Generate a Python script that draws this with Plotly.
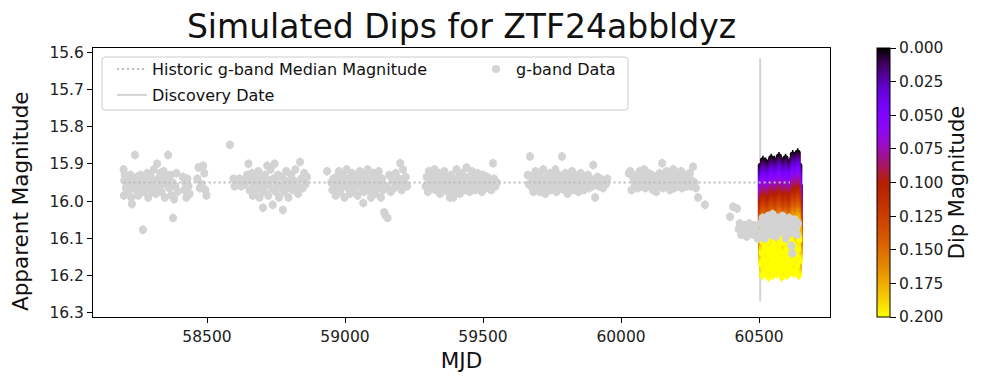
import math
import plotly.graph_objects as go

# ---------------- data ----------------
A_mjd = [58198, 58199, 58200, 58202, 58206, 58210, 58214, 58218, 58222, 58226,
         58228, 58231, 58235, 58239, 58243, 58247, 58251, 58255, 58259, 58263,
         58268, 58271, 58275, 58279, 58283, 58287, 58291, 58295, 58299, 58303,
         58307, 58311, 58315, 58319, 58323, 58327, 58331, 58335, 58339, 58343,
         58347, 58351, 58355, 58359, 58363, 58367, 58371, 58375, 58377, 58381,
         58385, 58389, 58393, 58413, 58417, 58421, 58425, 58429, 58433, 58437,
         58465, 58469, 58474, 58480, 58486, 58490, 58494, 58498]
A_mag = [15.915, 15.985, 15.945, 15.93, 15.965, 15.94, 15.975, 15.95, 15.93, 15.99,
         16.008, 15.96, 15.945, 15.876, 15.97, 15.935, 15.985, 15.95, 15.93, 15.96,
         16.077, 15.975, 15.94, 15.955, 15.925, 15.99, 15.96, 15.93, 15.975, 15.945,
         15.915, 15.965, 15.98, 15.9, 15.94, 15.96, 15.925, 15.975, 15.945, 15.92,
         15.99, 15.955, 15.935, 15.876, 15.965, 15.93, 15.985, 15.95, 16.045, 15.995,
         15.96, 15.925, 15.975, 15.935, 15.97, 15.95, 15.99, 15.94, 15.96, 15.98,
         15.94, 15.91, 15.965, 15.955, 15.905, 15.925, 15.97, 15.985]

B_mjd = [58583, 58596, 58600, 58606, 58612, 58618, 58624, 58630, 58635, 58640,
         58645, 58650, 58654, 58658, 58662, 58666, 58670, 58674, 58678, 58682,
         58686, 58690, 58694, 58698, 58703, 58706, 58710, 58714, 58718, 58722,
         58726, 58730, 58734, 58738, 58741, 58745, 58749, 58753, 58757, 58761,
         58765, 58769, 58775, 58779, 58783, 58787, 58791, 58795, 58800, 58805,
         58810, 58815, 58820, 58825, 58830, 58837, 58842, 58847, 58852, 58857,
         58862]
B_mag = [15.849, 15.94, 15.96, 15.945, 15.955, 15.94, 15.96, 15.945, 15.955, 15.95,
         15.93, 15.90, 15.97, 15.945, 15.925, 15.985, 15.955, 15.935, 15.97, 15.95,
         15.92, 15.99, 15.96, 15.94, 16.018, 15.975, 15.93, 15.955, 15.905, 15.985,
         15.945, 15.915, 15.965, 16.01, 15.94, 15.9, 15.975, 15.955, 15.93, 15.99,
         15.96, 15.935, 16.024, 15.975, 15.945, 15.92, 15.965, 15.99, 15.95, 15.93,
         15.97, 15.945, 15.915, 15.96, 15.98, 15.895, 15.94, 15.965, 15.925, 15.955,
         15.935]

C_mjd = [58935, 58950, 58954, 58958, 58962, 58966, 58970, 58974, 58978, 58982,
         58986, 58990, 58994, 58998, 59002, 59006, 59010, 59014, 59018, 59022,
         59026, 59030, 59034, 59038, 59042, 59046, 59050, 59054, 59058, 59062,
         59066, 59070, 59074, 59078, 59082, 59086, 59090, 59094, 59098, 59102,
         59106, 59110, 59114, 59118, 59122, 59126, 59130, 59134, 59138, 59142,
         59146, 59150, 59154, 59160, 59166, 59172, 59178, 59184, 59190, 59196,
         59200, 59205, 59210, 59215, 59220, 59225]
C_mag = [15.92, 15.95, 15.97, 15.94, 15.96, 15.985, 15.935, 15.955, 15.92, 15.975,
         15.945, 15.96, 15.93, 15.99, 15.95, 15.915, 15.965, 15.94, 15.98, 15.955,
         15.925, 15.97, 15.945, 15.96, 15.935, 15.985, 15.95, 15.92, 15.965, 15.94,
         16.005, 15.975, 15.93, 15.955, 15.915, 15.97, 15.945, 15.99, 15.96, 15.925,
         15.95, 15.98, 15.935, 15.965, 15.92, 15.955, 15.99, 15.94, 15.97, 16.03,
         16.037, 15.96, 16.045, 15.93, 15.975, 15.945, 15.965, 15.925, 15.955, 15.94,
         15.898, 15.97, 15.915, 15.95, 15.935, 15.96]

D_mjd = [59292, 59296, 59300, 59304, 59308, 59312, 59316, 59320, 59324, 59328,
         59332, 59336, 59340, 59344, 59348, 59352, 59356, 59360, 59364, 59368,
         59372, 59376, 59380, 59384, 59388, 59392, 59396, 59400, 59404, 59408,
         59412, 59416, 59420, 59424, 59428, 59432, 59436, 59440, 59444, 59448,
         59452, 59456, 59460, 59464, 59468, 59472, 59476, 59480, 59484, 59488,
         59492, 59496, 59500, 59505, 59510, 59515, 59520, 59525, 59530, 59536,
         59540, 59545, 59550]
D_mag = [15.96, 15.935, 15.975, 15.92, 15.95, 15.965, 15.93, 15.955, 15.915, 15.97,
         15.945, 15.96, 15.925, 15.98, 15.95, 15.935, 15.965, 15.92, 15.955, 15.94,
         15.975, 15.95, 15.99, 15.93, 15.965, 15.99, 15.945, 15.975, 15.915, 15.96,
         15.935, 15.98, 15.95, 15.925, 15.965, 15.94, 15.97, 15.91, 15.955, 15.935,
         15.975, 15.945, 15.92, 15.96, 15.93, 15.97, 15.95, 15.925, 15.965, 15.94,
         15.955, 15.975, 15.93, 15.95, 15.965, 15.935, 15.96, 15.945, 15.97, 15.898,
         15.94, 15.96, 15.95]

E_mjd = [59662, 59666, 59670, 59674, 59678, 59682, 59686, 59690, 59694, 59698,
         59702, 59706, 59710, 59714, 59718, 59722, 59726, 59730, 59734, 59738,
         59742, 59746, 59750, 59754, 59758, 59762, 59766, 59770, 59774, 59778,
         59782, 59786, 59790, 59794, 59798, 59802, 59806, 59810, 59814, 59818,
         59822, 59826, 59830, 59834, 59838, 59842, 59846, 59850, 59854, 59858,
         59862, 59866, 59870, 59875, 59880, 59885, 59890, 59895, 59899, 59903,
         59906, 59910, 59915, 59920, 59925, 59930, 59935, 59940, 59945, 59950]
E_mag = [15.93, 15.955, 15.88, 15.96, 15.935, 15.975, 15.945, 15.92, 15.965, 15.95,
         15.93, 15.975, 15.94, 15.96, 15.915, 15.955, 15.98, 15.935, 15.965, 15.945,
         15.925, 15.97, 15.95, 15.935, 15.96, 15.915, 15.975, 15.945, 15.93, 15.965,
         15.95, 15.88, 15.94, 15.97, 15.925, 15.955, 15.98, 15.935, 15.96, 15.945,
         15.92, 15.97, 15.95, 15.93, 15.965, 15.94, 15.975, 15.955, 15.925, 15.96,
         15.935, 15.97, 15.945, 15.95, 15.93, 15.965, 15.94, 15.96, 15.903, 15.945,
         15.99, 15.955, 15.935, 15.96, 15.94, 15.95, 15.965, 15.945, 15.955, 15.94]

F_mjd = [60028, 60033, 60038, 60045, 60050, 60055, 60060, 60064, 60068, 60072,
         60076, 60080, 60084, 60088, 60092, 60096, 60100, 60104, 60108, 60112,
         60116, 60120, 60124, 60128, 60132, 60136, 60140, 60144, 60149, 60153,
         60157, 60161, 60165, 60169, 60173, 60177, 60181, 60185, 60189, 60193,
         60197, 60201, 60205, 60209, 60213, 60217, 60221, 60225, 60229, 60233,
         60237, 60241, 60245, 60249, 60253, 60257, 60261, 60266, 60271, 60279,
         60304]
F_mag = [15.925, 15.92, 15.97, 15.94, 15.955, 15.93, 15.965, 15.945, 15.92, 15.96,
         15.935, 15.95, 15.915, 15.965, 15.94, 15.955, 15.925, 15.96, 15.945, 15.93,
         15.97, 15.95, 15.935, 15.975, 15.94, 15.96, 15.925, 15.95, 15.898, 15.965,
         15.935, 15.955, 15.92, 15.96, 15.94, 15.97, 15.93, 15.95, 15.915, 15.965,
         15.945, 15.925, 15.96, 15.94, 15.955, 15.92, 15.965, 15.935, 15.95, 15.93,
         15.96, 15.94, 15.955, 15.925, 15.96, 15.945, 15.908, 15.95, 15.965, 15.99,
         16.01]

R_mjd = [60395, 60406, 60420, 60426, 60430, 60435, 60440, 60445, 60450, 60455,
         60460, 60465, 60470, 60475, 60480, 60485, 60490, 60495]
R_mag = [16.042, 16.015, 16.02, 16.075, 16.06, 16.09, 16.07, 16.08, 16.065, 16.095,
         16.075, 16.06, 16.085, 16.07, 16.09, 16.065, 16.08, 16.1]

P_mjd = [60505, 60509, 60513, 60517, 60521, 60525, 60529, 60533, 60537, 60541,
         60545, 60549, 60553, 60557, 60561, 60565, 60569, 60573, 60577, 60581,
         60585, 60589, 60593, 60597, 60601, 60605, 60609, 60613, 60617, 60621,
         60625, 60629, 60633, 60637, 60641]
P_mag = [16.06, 16.09, 16.045, 16.07, 16.1, 16.05, 16.08, 16.04, 16.065, 16.09,
         16.055, 16.035, 16.075, 16.06, 16.095, 16.045, 16.07, 16.085, 16.05, 16.065,
         16.04, 16.08, 16.06, 16.1, 16.055, 16.07, 16.045, 16.085, 16.12, 16.14,
         16.065, 16.05, 16.075, 16.09, 16.06]

g_err = 0.012

# simulated light curve (zero dip) in the window after discovery
S_mjd = [60506, 60508, 60510, 60512, 60514, 60516, 60518, 60520, 60522, 60524,
         60526, 60528, 60530, 60532, 60534, 60536, 60538, 60540, 60542, 60544,
         60546, 60548, 60550, 60552, 60554, 60556, 60558, 60560, 60562, 60564,
         60566, 60568, 60570, 60572, 60574, 60576, 60578, 60580, 60582, 60584,
         60586, 60588, 60590, 60592, 60594, 60596, 60598, 60600, 60602, 60604,
         60606, 60608, 60610, 60612, 60614, 60616, 60618, 60620, 60622, 60624,
         60626, 60628, 60630, 60632, 60634, 60636, 60638, 60640, 60642, 60644,
         60646, 60648]
S_base = [15.905, 15.97, 15.94, 16.0, 15.89, 15.955, 15.985, 15.92, 15.96, 15.895,
          15.99, 15.935, 15.91, 15.975, 16.005, 15.9, 15.95, 15.93, 15.985, 15.885,
          15.965, 15.94, 16.0, 15.915, 15.955, 15.89, 15.98, 15.925, 15.96, 15.995,
          15.9, 15.945, 15.97, 15.88, 15.935, 15.99, 15.915, 15.96, 16.005, 15.895,
          15.95, 15.975, 15.91, 15.94, 15.985, 15.885, 15.965, 15.93, 16.0, 15.905,
          15.955, 15.92, 15.98, 15.895, 15.945, 15.99, 15.91, 15.965, 15.875, 15.935,
          15.995, 15.92, 15.955, 15.985, 15.89, 15.945, 15.975, 15.87, 15.93, 16.0,
          15.905, 15.96]
dip_levels = [0.000, 0.005, 0.010, 0.015, 0.020, 0.025, 0.030, 0.035, 0.040, 0.045,
              0.050, 0.055, 0.060, 0.065, 0.070, 0.075, 0.080, 0.085, 0.090, 0.095,
              0.100, 0.105, 0.110, 0.115, 0.120, 0.125, 0.130, 0.135, 0.140, 0.145,
              0.150, 0.155, 0.160, 0.165, 0.170, 0.175, 0.180, 0.185, 0.190, 0.195,
              0.200]

median_mag = 15.95
median_span = [58198, 60612]
discovery_mjd = 60504
discovery_span = [15.617, 16.269]

x_ticks = [58500, 59000, 59500, 60000, 60500]
y_ticks = [15.6, 15.7, 15.8, 15.9, 16.0, 16.1, 16.2, 16.3]
cb_ticks = [0.0, 0.025, 0.05, 0.075, 0.1, 0.125, 0.15, 0.175, 0.2]

# ---------------- styling helpers ----------------
W, H = 992, 388
L, R, T, B = 93, 830, 48, 317
FONT = "DejaVu Sans"
GREY = "#d3d3d3"


def gnuplot(t):
    t = min(max(t, 0.0), 1.0)
    r = math.sqrt(t)
    g = t ** 3
    b = max(0.0, math.sin(2 * math.pi * t))
    return "rgb(%d,%d,%d)" % (round(255 * r), round(255 * g), round(255 * b))


dmax = max(dip_levels)
# colorbar uses negative dip so that 0 sits at the top
cscale = [[i / 20, gnuplot(1 - i / 20)] for i in range(21)]

g_mjd = A_mjd + B_mjd + C_mjd + D_mjd + E_mjd + F_mjd + R_mjd + P_mjd
g_mag = A_mag + B_mag + C_mag + D_mag + E_mag + F_mag + R_mag + P_mag

fig = go.Figure()

# discovery date line
fig.add_trace(go.Scatter(
    x=[discovery_mjd, discovery_mjd], y=discovery_span, mode="lines",
    line=dict(color=GREY, width=2), name="Discovery Date",
    legend="legend2", hoverinfo="skip"))

# simulated dips
for k, d in enumerate(dip_levels):
    col = gnuplot(d / dmax)
    ys = [b + d for b in S_base]
    marker = dict(size=6, color=col, line=dict(width=0))
    if k == 0:
        marker = dict(size=6, color=[-d] * len(ys), colorscale=cscale,
                      cmin=-dmax, cmax=0, showscale=True, line=dict(width=0),
                      colorbar=dict(
                          thickness=13, len=1, lenmode="fraction",
                          y=0.5, yanchor="middle", yref="paper",
                          x=877 / W, xref="container", xanchor="left",
                          xpad=0, ypad=0, outlinewidth=1, outlinecolor="black",
                          ticks="outside", ticklen=6, tickcolor="black",
                          tickvals=[-v for v in cb_ticks],
                          ticktext=["%.3f" % v for v in cb_ticks],
                          tickfont=dict(family=FONT, size=15.5, color="#222"),
                          title=dict(text="Dip Magnitude", side="right",
                                     font=dict(family=FONT, size=21, color="#111"))))
    fig.add_trace(go.Scatter(
        x=S_mjd, y=ys, mode="markers", marker=marker,
        error_y=dict(type="constant", value=g_err, color=col, thickness=1.5, width=0),
        showlegend=False, hoverinfo="skip"))

# g-band data
fig.add_trace(go.Scatter(
    x=g_mjd, y=g_mag, mode="markers", name="g-band Data",
    marker=dict(size=8, color=GREY, line=dict(width=0)),
    error_y=dict(type="constant", value=g_err, color=GREY, thickness=2, width=0),
    legend="legend3"))

# historic median
fig.add_trace(go.Scatter(
    x=median_span, y=[median_mag, median_mag], mode="lines",
    line=dict(color="#bdbdbd", width=2, dash="2px,3px"),
    name="Historic g-band Median Magnitude", legend="legend", hoverinfo="skip"))


def xp(px):
    return (px - L) / (R - L)


def yp(py):
    return (B - py) / (B - T)


# legend frame (rounded)
bl, br, bt, bb = 102, 628, 57, 110
rx, ry = 3 / (R - L), 3 / (B - T)
x0, x1, y0, y1 = xp(bl), xp(br), yp(bb), yp(bt)
path = (f"M {x0+rx},{y1} L {x1-rx},{y1} Q {x1},{y1} {x1},{y1-ry} "
        f"L {x1},{y0+ry} Q {x1},{y0} {x1-rx},{y0} L {x0+rx},{y0} "
        f"Q {x0},{y0} {x0},{y0+ry} L {x0},{y1-ry} Q {x0},{y1} {x0+rx},{y1} Z")
fig.add_shape(type="path", path=path, xref="paper", yref="paper",
              line=dict(color="#cccccc", width=1), fillcolor="rgba(255,255,255,0.8)",
              layer="above")

# y-axis label (placed explicitly)
fig.add_annotation(text="Apparent Magnitude", textangle=-90,
                   x=21 / W, y=1 - 201 / H, xref="paper", yref="paper",
                   showarrow=False, xanchor="center", yanchor="middle",
                   font=dict(family=FONT, size=21.5, color="#111"))
# convert container coords -> paper for the annotation
fig.layout.annotations[0].update(xref="x domain", yref="y domain",
                                 x=(21 - L) / (R - L), y=(B - 201) / (B - T))

leg_common = dict(bgcolor="rgba(0,0,0,0)", borderwidth=0,
                  font=dict(family=FONT, size=16, color="#111"),
                  xref="container", yref="container", xanchor="left", yanchor="middle")

fig.update_layout(
    width=W, height=H,
    margin=dict(l=L, r=W - R, t=T, b=H - B, autoexpand=False),
    paper_bgcolor="white", plot_bgcolor="white",
    font=dict(family=FONT, color="#111"),
    title=dict(text="Simulated Dips for ZTF24abbldyz", x=0.5, xref="paper",
               xanchor="center", y=1 - 26 / H, yref="container", yanchor="middle",
               font=dict(family=FONT, size=33, color="#111")),
    showlegend=True,
    legend=dict(x=112 / W, y=1 - 69 / H, **leg_common),
    legend2=dict(x=112 / W, y=1 - 95 / H, **leg_common),
    legend3=dict(x=476 / W, y=1 - 69 / H, **leg_common),
    xaxis=dict(range=[58087, 60757], tickvals=x_ticks, tickformat="d",
               showline=True, mirror=True, linecolor="black", linewidth=1,
               ticks="outside", ticklen=5, tickcolor="black", showgrid=False,
               zeroline=False, tickfont=dict(family=FONT, size=15.5, color="#222"),
               title=dict(text="MJD", font=dict(family=FONT, size=21.5, color="#111"),
                          standoff=8)),
    yaxis=dict(range=[16.311, 15.589], tickvals=y_ticks, tickformat=".1f",
               showline=True, mirror=True, linecolor="black", linewidth=1,
               ticks="outside", ticklen=5, tickcolor="black", showgrid=False,
               zeroline=False, tickfont=dict(family=FONT, size=15.5, color="#222")),
)

fig.write_html("out.html", config={"displayModeBar": False},
               post_script="document.body.style.margin='0';")
